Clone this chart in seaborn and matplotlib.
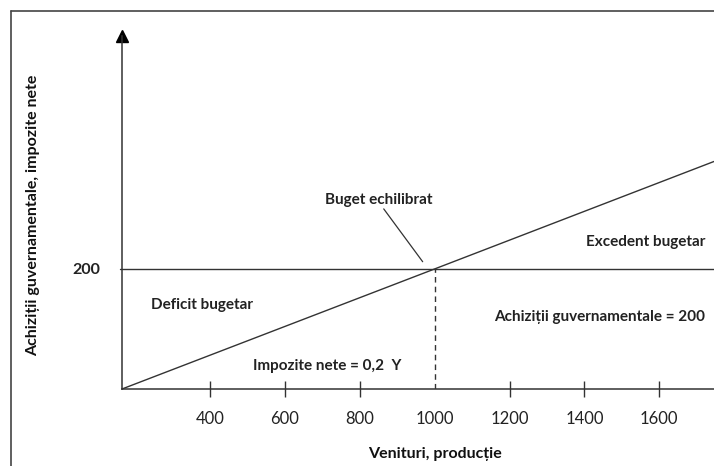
import matplotlib
matplotlib.use("Agg")
import matplotlib.pyplot as plt
import seaborn as sns
import pandas as pd
from matplotlib.lines import Line2D

# values
income_pts = [165, 1000, 1746]
tax_pts = [0, 200, 379]
gov_x = [160, 1746]
gov_y = [200, 200]
x_ticks = [400, 600, 800, 1000, 1200, 1400, 1600]
y_ticks = [200]
balance_x = 1000
balance_y = 200

sns.set_style("white")
plt.rcParams["font.family"] = ["Lato", "DejaVu Sans"]

W, H = 714, 466
fig = plt.figure(figsize=(W / 100, H / 100), dpi=100)
ax = fig.add_axes([122 / W, (H - 389) / H, 592 / W, 353 / H])

line_col = "#333333"
tax_df = pd.DataFrame({"venit": income_pts, "impozite": tax_pts})
gov_df = pd.DataFrame({"venit": gov_x, "achizitii": gov_y})

sns.lineplot(data=tax_df, x="venit", y="impozite", ax=ax, color=line_col,
             lw=1.0, clip_on=False)
sns.lineplot(data=gov_df, x="venit", y="achizitii", ax=ax, color=line_col,
             lw=1.0, clip_on=False)
ax.plot([balance_x, balance_x], [0, balance_y], color=line_col, lw=1.0,
        linestyle=(0, (4, 3)))

ax.set_xlim(165, 1746)
ax.set_ylim(0, 588)

# axis look
for s in ["top", "right"]:
    ax.spines[s].set_visible(False)
for s in ["left", "bottom"]:
    ax.spines[s].set_color(line_col)
    ax.spines[s].set_linewidth(1.1)
ax.plot(0, 1, marker="^", color="black", markersize=8, transform=ax.transAxes,
        clip_on=False)

ax.set_xticks(x_ticks)
ax.set_xticklabels([str(t) for t in x_ticks])
ax.tick_params(axis="x", bottom=True, direction="inout", length=11.5,
               width=1.0, color=line_col, pad=10, labelsize=12,
               labelcolor="#222222")
# no tick mark under the dashed line at 1000
ax.xaxis.get_major_ticks()[x_ticks.index(balance_x)].tick1line.set_visible(False)
ax.set_yticks(y_ticks)
ax.set_yticklabels([str(t) for t in y_ticks])
ax.tick_params(axis="y", left=False, length=0, pad=16, labelsize=11.5,
               labelcolor="#222222")
for lab in ax.get_yticklabels():
    lab.set_fontweight("bold")
ax.set_xlabel("")
ax.set_ylabel("")

txt = dict(fontsize=11, fontweight="bold", color="#222222")
ax.text(851, 315, "Buget echilibrat", ha="center", va="center", **txt)
ax.plot([864, 968], [300, 212], color=line_col, lw=0.9)
ax.text(1722, 245, "Excedent bugetar", ha="right", va="center", **txt)
ax.text(1722, 120, "Achiziții guvernamentale = 200", ha="right", va="center", **txt)
ax.text(243, 140, "Deficit bugetar", ha="left", va="center", **txt)
ax.text(514, 38, "Impozite nete = 0,2  Y", ha="left", va="center", **txt)

fig.text(435 / W, 1 - 454 / H, "Venituri, producție", ha="center", va="center",
         fontsize=11.5, fontweight="bold", color="#111111")
fig.text(33 / W, 1 - 215 / H, "Achiziții guvernamentale, impozite nete",
         ha="center", va="center", rotation=90, fontsize=11.5,
         fontweight="bold", color="#111111")

# outer frame (top and left only)
fig.add_artist(Line2D([11 / W, 1], [1 - 11 / H, 1 - 11 / H], color="#444444",
                      lw=1.2, transform=fig.transFigure))
fig.add_artist(Line2D([11 / W, 11 / W], [0, 1 - 11 / H], color="#444444",
                      lw=1.2, transform=fig.transFigure))

fig.savefig("out.png", dpi=100)
